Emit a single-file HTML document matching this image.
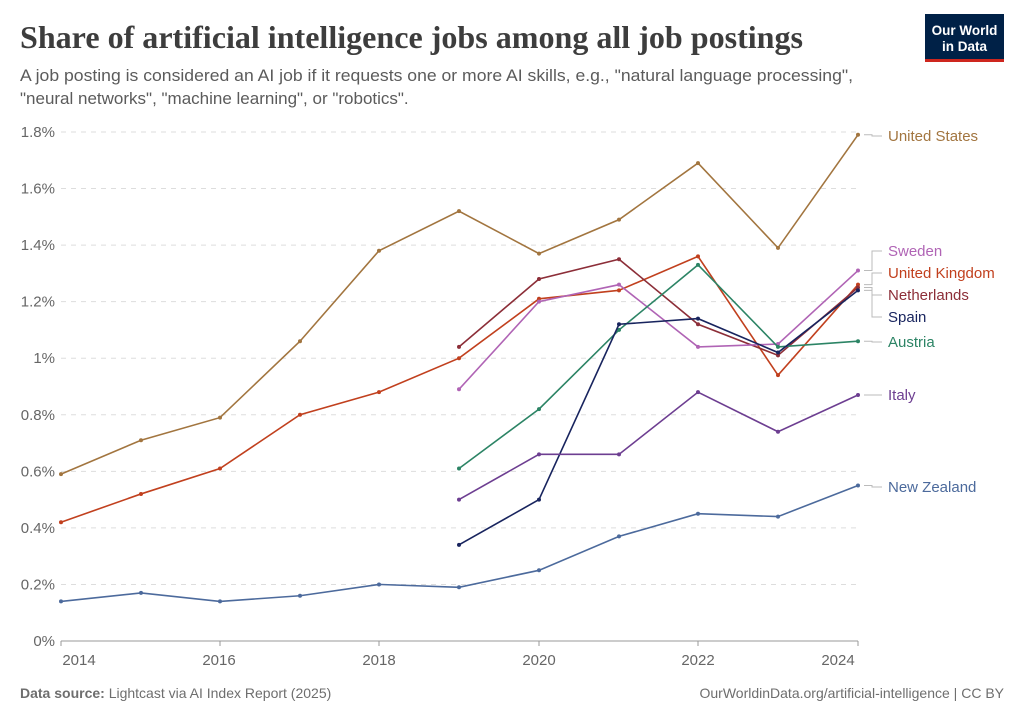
<!DOCTYPE html><html><head><meta charset="utf-8"><style>
body{margin:0;background:#fff;width:1024px;height:723px;overflow:hidden;font-family:"Liberation Sans",sans-serif}
</style></head><body>
<svg id="s" width="1024" height="723" xmlns="http://www.w3.org/2000/svg" font-family="Liberation Sans, sans-serif">
<text x="20" y="48" font-family="Liberation Serif, serif" font-size="32" font-weight="bold" fill="#3d3d3d" textLength="783" lengthAdjust="spacingAndGlyphs">Share of artificial intelligence jobs among all job postings</text>
<text x="20" y="81" font-size="17" fill="#5b5b5b" textLength="833" lengthAdjust="spacingAndGlyphs">A job posting is considered an AI job if it requests one or more AI skills, e.g., "natural language processing",</text>
<text x="20" y="104" font-size="17" fill="#5b5b5b">"neural networks", "machine learning", or "robotics".</text>
<rect x="925" y="14" width="79" height="48" fill="#002147"/><rect x="925" y="59" width="79" height="3" fill="#ce261e"/>
<text x="964.5" y="35" font-size="13.5" fill="#fff" text-anchor="middle" font-weight="bold">Our World</text>
<text x="964.5" y="51" font-size="13.5" fill="#fff" text-anchor="middle" font-weight="bold">in Data</text>
<text x="20" y="698" font-size="14" fill="#6e6e6e"><tspan font-weight="bold">Data source:</tspan> Lightcast via AI Index Report (2025)</text>
<text x="1004" y="698" font-size="14" fill="#6e6e6e" text-anchor="end">OurWorldinData.org/artificial-intelligence | CC BY</text>
<g id="g"></g>
</svg>
<script>
var g=document.getElementById('g'),h='';
function Y(v){return 641-282.8*v}
var X=[61,141,220,300,379,459,539,619,698,778,858];
var yl=['0%','0.2%','0.4%','0.6%','0.8%','1%','1.2%','1.4%','1.6%','1.8%'];
for(var i=0;i<10;i++){var y=Y(i*0.2);
 if(i>0)h+='<line x1="61" x2="858" y1="'+y+'" y2="'+y+'" stroke="#ddd" stroke-dasharray="5,5"/>';
 h+='<text x="55" y="'+(y+5)+'" font-size="15" fill="#666" text-anchor="end">'+yl[i]+'</text>';}
h+='<line x1="61" x2="858" y1="641" y2="641" stroke="#999"/>';
[[2014,79],[2016,219],[2018,379],[2020,539],[2022,698],[2024,838]].forEach(function(a){
 var xx=X[a[0]-2014];h+='<line x1="'+xx+'" x2="'+xx+'" y1="641" y2="646" stroke="#999"/>';
 h+='<text x="'+a[1]+'" y="665" font-size="15" fill="#666" text-anchor="middle">'+a[0]+'</text>';});
var S=[
['#a2753f',0,[.59,.71,.79,1.06,1.38,1.52,1.37,1.49,1.69,1.39,1.79],'United States',136],
['#c1401e',0,[.42,.52,.61,.80,.88,1.00,1.21,1.24,1.36,.94,1.26],'United Kingdom',273],
['#4c6a9c',0,[.14,.17,.14,.16,.20,.19,.25,.37,.45,.44,.55],'New Zealand',487],
['#8c2e38',5,[1.04,1.28,1.35,1.12,1.01,1.25],'Netherlands',295],
['#b064b5',5,[.89,1.20,1.26,1.04,1.05,1.31],'Sweden',251],
['#2c8465',5,[.61,.82,1.10,1.33,1.04,1.06],'Austria',342],
['#18245e',5,[.34,.50,1.12,1.14,1.02,1.24],'Spain',317],
['#6d3e91',5,[.50,.66,.66,.88,.74,.87],'Italy',395]];
S.forEach(function(s){var p=[];s[2].forEach(function(v,k){p.push(X[s[1]+k]+','+Y(v))});
 h+='<polyline points="'+p.join(' ')+'" fill="none" stroke="'+s[0]+'" stroke-width="1.6"/>';
 s[2].forEach(function(v,k){h+='<circle cx="'+X[s[1]+k]+'" cy="'+Y(v)+'" r="2" fill="'+s[0]+'"/>'});
 var ly=Y(s[2][s[2].length-1]);
 h+='<polyline points="864,'+ly+' 872,'+ly+' 872,'+s[4]+' 882,'+s[4]+'" fill="none" stroke="#bbb"/>';
 h+='<text x="888" y="'+(s[4]+5)+'" font-size="15" fill="'+s[0]+'">'+s[3]+'</text>';});
g.innerHTML=h;
</script>
</body></html>
